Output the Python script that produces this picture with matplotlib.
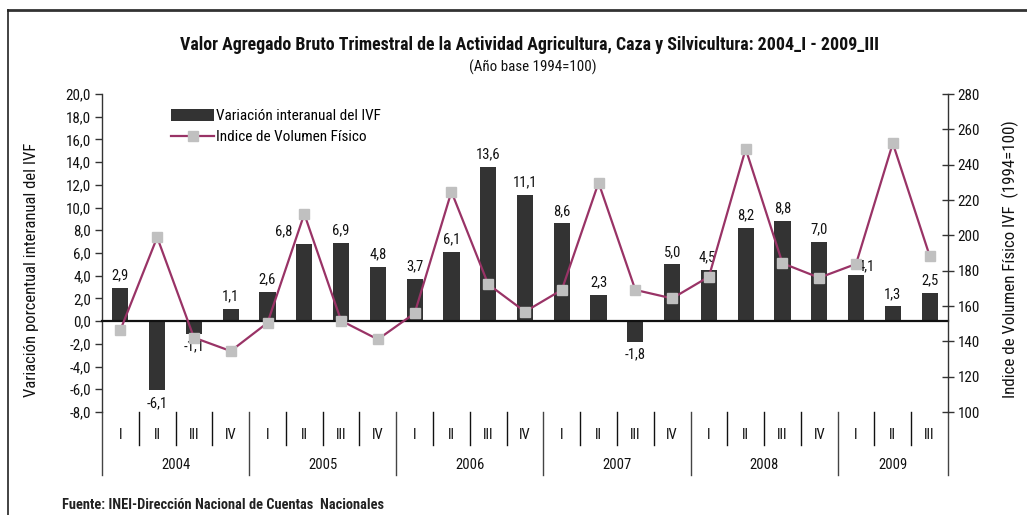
import matplotlib
matplotlib.use("Agg")
import matplotlib.pyplot as plt
import matplotlib.transforms as mtransforms
from matplotlib.lines import Line2D
from matplotlib.ticker import FuncFormatter, FixedLocator
from matplotlib import font_manager

# ---------------- data ----------------
years = ["2004", "2005", "2006", "2007", "2008", "2009"]
quarters_per_year = [4, 4, 4, 4, 4, 3]
quarter_labels = ["I", "II", "III", "IV"] * 5 + ["I", "II", "III"]
variacion = [2.9, -6.1, -1.1, 1.1,
             2.6, 6.8, 6.9, 4.8,
             3.7, 6.1, 13.6, 11.1,
             8.6, 2.3, -1.8, 5.0,
             4.5, 8.2, 8.8, 7.0,
             4.1, 1.3, 2.5]
ivf = [146.4, 198.9, 142.1, 134.5,
       150.5, 212.1, 151.7, 141.1,
       155.9, 224.7, 172.3, 156.8,
       169.1, 229.8, 169.1, 164.3,
       176.6, 248.9, 184.2, 176.0,
       183.8, 252.1, 188.5]
left_ticks = [-8, -6, -4, -2, 0, 2, 4, 6, 8, 10, 12, 14, 16, 18, 20]
right_ticks = [100, 120, 140, 160, 180, 200, 220, 240, 260, 280]

title = "Valor Agregado Bruto Trimestral de la Actividad Agricultura, Caza y Silvicultura: 2004_I - 2009_III"
subtitle = "(Año base 1994=100)"
ylabel_left = "Variación porcentual interanual del IVF"
ylabel_right = "Indice de Volumen Físico IVF  (1994=100)"
legend_bar = "Variación interanual del IVF"
legend_line = "Indice de Volumen Físico"
source = "Fuente: INEI-Dirección Nacional de Cuentas  Nacionales"

# ---------------- style ----------------
installed = {f.name for f in font_manager.fontManager.ttflist}
narrow = "DejaVu Sans"
for cand in ["Liberation Sans Narrow", "Arial Narrow", "Roboto Condensed",
             "PT Sans Narrow", "Archivo Narrow"]:
    if cand in installed:
        narrow = cand
        break
plt.rcParams['font.family'] = [narrow, 'DejaVu Sans']

BAR_COLOR = "#333333"
LINE_COLOR = "#993366"
MARK_COLOR = "#C0C0C0"
AX_COLOR = "#333333"
TXT = "#111111"

# label nudges (points) for a few manually placed data labels
label_nudge = {5: (-15, 0), 20: (7, -3), 16: (-1, 0)}

W, H = 1027, 515
fig = plt.figure(figsize=(W / 100, H / 100), dpi=100)
fig.patch.set_facecolor("white")

x0, x1 = 102 / W, 948 / W
y0, y1 = 1 - 412 / H, 1 - 94 / H
ax = fig.add_axes([x0, y0, x1 - x0, y1 - y0])
ax2 = ax.twinx()

n = len(variacion)
xs = list(range(n))

bars = ax.bar(xs, variacion, width=0.44, color=BAR_COLOR, zorder=2,
              label=legend_bar)
ax.set_xlim(-0.5, n - 0.5)
ax.set_ylim(-8, 20)

# bar labels
for xi, v in zip(xs, variacion):
    s = f"{v:.1f}".replace(".", ",")
    dx, dy = label_nudge.get(xi, (0, 0))
    if v >= 0:
        ax.annotate(s, (xi, v), xytext=(dx, 4 + dy), textcoords="offset points",
                    ha="center", va="bottom", fontsize=10.5, color=TXT)
    else:
        ax.annotate(s, (xi, v), xytext=(dx, -4 + dy), textcoords="offset points",
                    ha="center", va="top", fontsize=10.5, color=TXT)

# line on the right axis
line, = ax2.plot(xs, ivf, color=LINE_COLOR, lw=1.6, marker="s",
                 markersize=7, markerfacecolor=MARK_COLOR,
                 markeredgecolor=MARK_COLOR, zorder=3, label=legend_line)
ax2.set_ylim(100, 280)

# left axis
ax.yaxis.set_major_locator(FixedLocator(left_ticks))
ax.yaxis.set_major_formatter(FuncFormatter(lambda v, p: f"{v:.1f}".replace(".", ",")))
ax.tick_params(axis="y", direction="out", length=5, width=1, colors=AX_COLOR,
               labelsize=10.8, labelcolor=TXT, pad=3)
# right axis
ax2.yaxis.set_major_locator(FixedLocator(right_ticks))
ax2.tick_params(axis="y", direction="inout", length=8, width=1, colors=AX_COLOR,
                labelsize=10.8, labelcolor=TXT, pad=3)

for a in (ax, ax2):
    a.spines["top"].set_visible(False)
    a.patch.set_visible(False)
ax.spines["right"].set_visible(False)
ax2.spines["left"].set_visible(False)
ax2.spines["bottom"].set_visible(False)
ax.spines["left"].set_color(AX_COLOR)
ax2.spines["right"].set_color(AX_COLOR)
ax.spines["left"].set_linewidth(1.0)
ax2.spines["right"].set_linewidth(1.0)

# zero line as the x axis
ax.spines["bottom"].set_position(("data", 0))
ax.spines["bottom"].set_color(TXT)
ax.spines["bottom"].set_linewidth(1.6)
ax.spines["bottom"].set_zorder(2.5)
bounds = [i - 0.5 for i in range(n + 1)]
ax.set_xticks(bounds)
ax.set_xticklabels([])
ax.tick_params(axis="x", direction="in", length=5, width=1, colors=TXT)
ax2.set_xticks([])

# category labels beneath the plot
trans = mtransforms.blended_transform_factory(ax.transData, ax.transAxes)
for xi, q in zip(xs, quarter_labels):
    ax.text(xi, -0.072, q, transform=trans, ha="center", va="center",
            fontsize=10.5, color=TXT)
year_bounds = [-0.5]
for c in quarters_per_year:
    year_bounds.append(year_bounds[-1] + c)
for b in bounds:
    if b in year_bounds:
        continue
    ax.add_line(Line2D([b, b], [0, -0.104], transform=trans, color=TXT,
                       lw=1.0, clip_on=False))
for b in year_bounds:
    ax.add_line(Line2D([b, b], [0, -0.198], transform=trans, color="#444444",
                       lw=1.0, clip_on=False))
for i, y in enumerate(years):
    cx = (year_bounds[i] + year_bounds[i + 1]) / 2
    ax.text(cx, -0.167, y, transform=trans, ha="center", va="center",
            fontsize=10.5, color=TXT)

# axis labels
fig.text(32 / W, 1 - 270 / H, ylabel_left, rotation=90, ha="center",
         va="center", fontsize=12, color=TXT)
fig.text(1010 / W, 1 - 259 / H, ylabel_right, rotation=90, ha="center",
         va="center", fontsize=12.2, color=TXT)

# title
fig.text(530 / W, 1 - 45 / H, title, ha="center", va="center",
         fontsize=12.9, fontweight="bold", color=TXT)
fig.text(533 / W, 1 - 67 / H, subtitle, ha="center", va="center",
         fontsize=10.8, color=TXT)

# legend
leg = ax.legend(handles=[bars, line], loc="upper left",
                bbox_to_anchor=(165 / W, 1 - 103 / H), bbox_transform=fig.transFigure,
                frameon=False, fontsize=11, handlelength=2.8, handleheight=0.8,
                handletextpad=0.15, labelspacing=0.45, borderaxespad=0)
leg.set_zorder(5)

# source
fig.text(62 / W, 1 - 505 / H, source, ha="left", va="center", fontsize=10.4,
         fontweight="bold", color="#222222")

# outer frame (cropped at right and bottom)
fig.add_artist(Line2D([8 / W, 1], [1 - 10 / H, 1 - 10 / H],
                      transform=fig.transFigure, color="#333333", lw=2))
fig.add_artist(Line2D([8 / W, 8 / W], [0, 1 - 10 / H],
                      transform=fig.transFigure, color="#222222", lw=1.2))

fig.savefig("out.png", dpi=100, facecolor="white")
